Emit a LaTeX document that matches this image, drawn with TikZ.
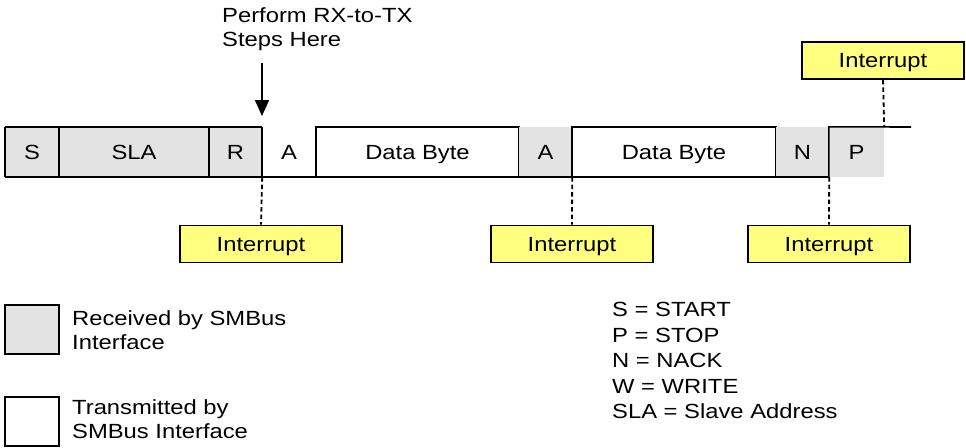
\documentclass[tikz,border=0pt]{standalone}
\usepackage{fontspec}
\setmainfont{Liberation Sans}[FakeStretch=1.16]
\usetikzlibrary{arrows.meta}
\definecolor{rxgray}{RGB}{227,227,227}
\definecolor{intyellow}{RGB}{255,255,128}
\begin{document}
\begin{tikzpicture}[x=1pt,y=-1pt,
  every node/.style={font=\fontsize{20.5}{24.5}\selectfont, inner sep=0pt},
  cell/.style={minimum height=50pt, minimum width=#1, text height=14.3pt, text depth=0pt},
  rxcell/.style={cell=#1, fill=rxgray},
  txcell/.style={cell=#1},
  txbox/.style={cell=#1, draw, line width=1.6pt},
  intbox/.style={draw, line width=1.6pt, fill=intyellow, minimum width=162pt, minimum height=37pt, text height=14.3pt, text depth=0pt},
  legbox/.style={draw, line width=1.6pt, minimum width=54pt, minimum height=49pt},
  frameline/.style={line width=1.6pt},
  dashline/.style={line width=1.8pt, dash pattern=on 4.5pt off 3pt},
  legtext/.style={anchor=north west, align=left}
]
\useasboundingbox (0,0) rectangle (966,447);

% frame cells
\node[rxcell=54pt]  (S)   at (32,152)    {S};
\node[rxcell=150pt] (SLA) at (134,152)   {SLA};
\node[rxcell=53pt]  (R)   at (235.5,152) {R};
\node[txcell=54pt]  (A1)  at (289,152)   {A};
\node[txbox=203pt]  (D1)  at (417.5,152) {Data Byte};
\node[rxcell=53pt]  (A2)  at (545.5,152) {A};
\node[txbox=204pt]  (D2)  at (674,152)   {Data Byte};
\node[rxcell=53pt]  (N)   at (802.5,152) {N};
\node[rxcell=55pt]  (P)   at (856.5,152) {P};

% frame lines
\draw[frameline] (S.north west) -- (R.north east);
\draw[frameline] (S.north west) -- (S.south west);
\draw[frameline] (S.north east) -- (S.south east);
\draw[frameline] (SLA.north east) -- (SLA.south east);
\draw[frameline] (R.north east) -- (R.south east);
\draw[frameline] (S.south west) -- (N.south east);
\coordinate (busend) at (911,127);
\draw[frameline] (P.south west) -- (P.north west) -- (busend);

% interrupts
\node[intbox] (int1) at (261,244)  {Interrupt};
\node[intbox] (int2) at (572,244)  {Interrupt};
\node[intbox] (int3) at (829,244)  {Interrupt};
\node[intbox] (int4) at (883,60.5) {Interrupt};

\draw[dashline] (R.south east) -- (int1.north);
\draw[dashline] (A2.south east) -- (int2.north);
\draw[dashline] (N.south east) -- (int3.north);
\draw[dashline] (int4.south) -- (P.north east);

% arrow
\node[legtext] (perform) at (222,7) {Perform RX-to-TX\\Steps Here};
\coordinate (arrtop) at (262,63);
\coordinate (arrtip) at (262,116);
\draw[line width=1.6pt, -{Triangle[width=14pt,length=16pt]}] (arrtop) -- (arrtip);

% legends
\node[legbox, fill=rxgray] (lrx) at (32,329.5) {};
\node[legbox] (ltx) at (32,421.5) {};
\node[legtext] (lrxt) at (72,310) {Received by SMBus\\Interface};
\node[legtext] (ltxt) at (72,399) {Transmitted by\\SMBus Interface};
\node[legtext, font=\fontsize{20.5}{25.5}\selectfont] (abbr) at (612,302)
  {S = START\\P = STOP\\N = NACK\\W = WRITE\\SLA = Slave Address};
\end{tikzpicture}
\end{document}
